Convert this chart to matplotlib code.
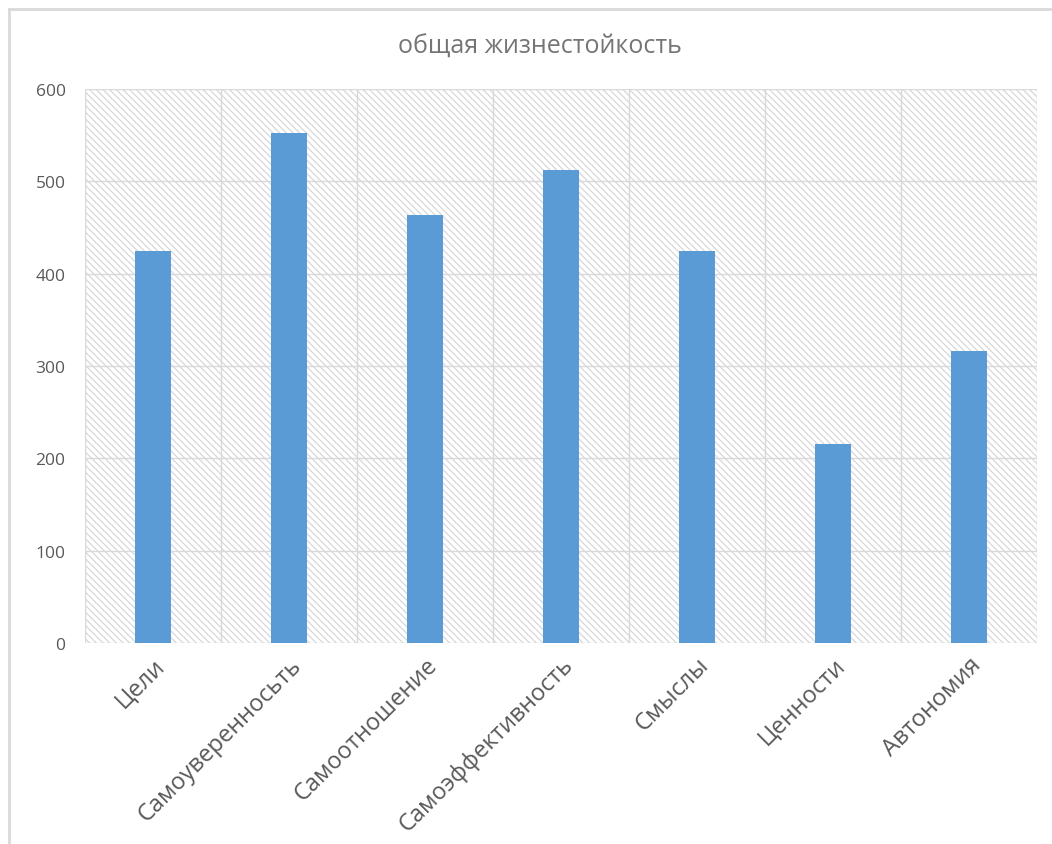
import matplotlib.pyplot as plt
from matplotlib.patches import Rectangle
from matplotlib.lines import Line2D

categories = ['Цели', 'Самоуверенносьть', 'Самоотношение', 'Самоэффективность',
              'Смыслы', 'Ценности', 'Автономия']
values = [425, 552, 463, 512, 425, 216, 316]
yticks = [0, 100, 200, 300, 400, 500, 600]

plt.rcParams['font.family'] = ['Open Sans', 'DejaVu Sans']
plt.rcParams['hatch.linewidth'] = 0.9

fig = plt.figure(figsize=(10.52, 8.45), dpi=100)
ax = fig.add_axes([85 / 1052, 1 - 644 / 845, (1037 - 85) / 1052, (644 - 90) / 845])

n = len(categories)
ax.set_xlim(-0.5, n - 0.5)
ax.set_ylim(0, 600)

# hatched plot background
ax.add_patch(Rectangle((-0.5, 0), n, 600, facecolor='white', edgecolor='#d8d8d8',
                       linewidth=0, hatch='\\\\\\\\\\', zorder=0))

ax.bar(range(n), values, width=0.27, color='#5b9bd5', zorder=3)

ax.set_yticks(yticks)
ax.set_yticklabels([str(v) for v in yticks])
ax.set_xticks(range(n))
ax.set_xticklabels(categories, rotation=45, ha='right', rotation_mode='anchor')

for y in yticks:
    ax.axhline(y, color='#d9d9d9', lw=1.0, zorder=1)
for i in range(n + 1):
    ax.axvline(i - 0.5, color='#d9d9d9', lw=1.0, zorder=1)

for s in ax.spines.values():
    s.set_visible(False)
ax.tick_params(axis='both', length=0, colors='#595959')
ax.tick_params(axis='y', pad=14, labelsize=12.5)
ax.tick_params(axis='x', pad=7, labelsize=17)

fig.text(540 / 1052, 1 - 47 / 845, 'общая жизнестойкость', ha='center', va='center',
         fontsize=18, color='#757575')

# outer chart frame (top and left edges visible)
fig.add_artist(Line2D([9 / 1052, 1], [1 - 10 / 845, 1 - 10 / 845], color='#d9d9d9', lw=2))
fig.add_artist(Line2D([9 / 1052, 9 / 1052], [0, 1 - 10 / 845], color='#d9d9d9', lw=2))

fig.savefig('out.png', dpi=100)
